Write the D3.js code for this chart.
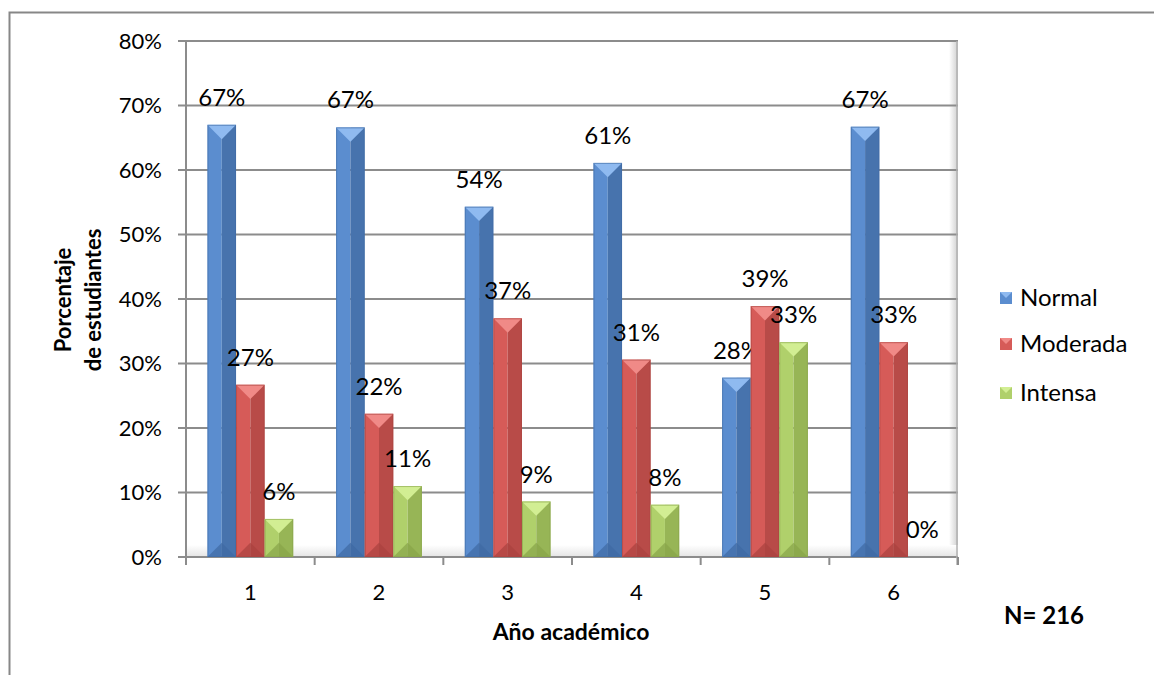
<!DOCTYPE html>
<html>
<head>
<meta charset="utf-8">
<script src="https://cdn.jsdelivr.net/npm/d3@7"></script>
<style>
  body { margin: 0; background: #fff; }
  svg text { font-family: Lato, "Open Sans", sans-serif; fill: #000; }
</style>
</head>
<body>
<div id="chart"></div>
<script>
// años académicos
const years = ["1", "2", "3", "4", "5", "6"];
const seriesNames = ["Normal", "Moderada", "Intensa"];
const normal = [0.670, 0.666, 0.543, 0.611, 0.278, 0.667];
const moderada = [0.267, 0.222, 0.370, 0.306, 0.389, 0.333];
const intensa = [0.059, 0.110, 0.086, 0.081, 0.333, 0];
const yTicks = [0, 0.1, 0.2, 0.3, 0.4, 0.5, 0.6, 0.7, 0.8];

// left, right, cap top, cap bottom colours per series
const palette = {
  Normal:   { left: "#5b8dcf", right: "#4773ad", top: "#8fbaf0", bottom: "#3f6aa3" },
  Moderada: { left: "#d65b58", right: "#b84b48", top: "#f08a87", bottom: "#a9423f" },
  Intensa:  { left: "#b0d06b", right: "#97b556", top: "#d2ee93", bottom: "#87a449" }
};

const W = 1154, H = 675;
const plot = { left: 186, right: 958, top: 41, bottom: 557 };

const svg = d3.select("#chart").append("svg")
  .attr("width", W).attr("height", H);

const data = years.map((y, i) => ({
  year: y,
  values: [
    { key: "Normal", v: normal[i] },
    { key: "Moderada", v: moderada[i] },
    { key: "Intensa", v: intensa[i] }
  ]
}));

const x0 = d3.scaleBand().domain(years).range([plot.left, plot.right]);
const x1 = d3.scaleBand().domain(seriesNames).range([0, x0.bandwidth()]).paddingOuter(0.75);
const y = d3.scaleLinear().domain([0, 0.8]).range([plot.bottom, plot.top]);

// outer frame (only top and left edges fall inside the picture)
svg.append("rect")
  .attr("x", 9.5).attr("y", 12.5).attr("width", 1160).attr("height", 680)
  .attr("fill", "none").attr("stroke", "#878787").attr("stroke-width", 2);

const defs = svg.append("defs");
const wallGrad = defs.append("linearGradient").attr("id", "wallEdge").attr("x1", 0).attr("x2", 1);
wallGrad.append("stop").attr("offset", 0).attr("stop-color", "#ffffff");
wallGrad.append("stop").attr("offset", 1).attr("stop-color", "#cfcfcf");
const floorGrad = defs.append("linearGradient").attr("id", "floor").attr("x1", 0).attr("x2", 0).attr("y1", 0).attr("y2", 1);
floorGrad.append("stop").attr("offset", 0).attr("stop-color", "#ffffff");
floorGrad.append("stop").attr("offset", 1).attr("stop-color", "#e4e4e4");

// back wall shading
svg.append("rect")
  .attr("x", plot.right - 9).attr("y", plot.top).attr("width", 9).attr("height", plot.bottom - plot.top)
  .attr("fill", "url(#wallEdge)");
svg.append("rect")
  .attr("x", plot.left).attr("y", plot.bottom - 12).attr("width", plot.right - plot.left).attr("height", 12)
  .attr("fill", "url(#floor)");

// gridlines + y ticks
svg.append("g").selectAll("line").data(yTicks).join("line")
  .attr("x1", plot.left - 8).attr("x2", plot.right)
  .attr("y1", d => y(d)).attr("y2", d => y(d))
  .attr("stroke", "#8c8c8c").attr("stroke-width", 2);

svg.append("line")
  .attr("x1", plot.left).attr("x2", plot.left)
  .attr("y1", plot.top).attr("y2", plot.bottom + 8)
  .attr("stroke", "#8c8c8c").attr("stroke-width", 2);
svg.append("line")
  .attr("x1", plot.right - 1).attr("x2", plot.right - 1)
  .attr("y1", plot.top).attr("y2", plot.bottom + 8)
  .attr("stroke", "#b0b0b0").attr("stroke-width", 1.5);

svg.append("g").selectAll("text").data(yTicks).join("text")
  .attr("x", 162).attr("y", d => y(d))
  .attr("dy", "0.35em")
  .attr("text-anchor", "end")
  .style("font-size", "22px")
  .text(d3.format(".0%"));

// x ticks between categories
const edges = years.map(d => x0(d)).concat([plot.right]);
svg.append("g").selectAll("line").data(edges).join("line")
  .attr("x1", d => d).attr("x2", d => d)
  .attr("y1", plot.bottom).attr("y2", plot.bottom + 8)
  .attr("stroke", "#8c8c8c").attr("stroke-width", 2);

svg.append("g").selectAll("text").data(years).join("text")
  .attr("x", d => x0(d) + x0.bandwidth() / 2)
  .attr("y", 592).attr("dy", "0.35em")
  .attr("text-anchor", "middle")
  .style("font-size", "22px")
  .text(d => d);

// bars
const groups = svg.append("g").selectAll("g").data(data).join("g")
  .attr("transform", d => `translate(${x0(d.year)},0)`);

const bars = groups.selectAll("g").data(d => d.values).join("g")
  .attr("transform", d => `translate(${x1(d.key)},0)`);

bars.each(function(d) {
  const g = d3.select(this);
  const w = x1.bandwidth();
  const top = y(d.v), bot = y(0);
  const h = bot - top;
  if (h <= 0) return;
  const c = palette[d.key];
  const cap = Math.min(w / 2, h / 2);
  g.append("rect").attr("x", 0).attr("y", top).attr("width", w / 2).attr("height", h).attr("fill", c.left);
  g.append("rect").attr("x", w / 2).attr("y", top).attr("width", w / 2).attr("height", h).attr("fill", c.right);
  g.append("path")
    .attr("d", `M0,${top}L${w},${top}L${w / 2},${top + cap}Z`)
    .attr("fill", c.top);
  g.append("path")
    .attr("d", `M0,${bot}L${w},${bot}L${w / 2},${bot - cap}Z`)
    .attr("fill", c.bottom).attr("opacity", 0.7);
  g.append("rect").attr("x", 0.5).attr("y", top + 0.5).attr("width", w - 1).attr("height", h - 1)
    .attr("fill", "none").attr("stroke", c.bottom).attr("stroke-opacity", 0.6);
});

// value labels
bars.append("text")
  .attr("x", x1.bandwidth() / 2)
  .attr("y", d => y(d.v) - 19)
  .attr("text-anchor", "middle")
  .style("font-size", "24px")
  .text(d => d3.format(".0%")(d.v));

// axis titles
svg.append("text")
  .attr("x", 571).attr("y", 632).attr("dy", "0.35em")
  .attr("text-anchor", "middle")
  .style("font-size", "23px").style("font-weight", "bold")
  .text("Año académico");

const yTitle = svg.append("text")
  .attr("transform", "translate(63,300) rotate(-90)")
  .attr("text-anchor", "middle")
  .style("font-size", "22px").style("font-weight", "bold");
yTitle.append("tspan").attr("x", 0).attr("dy", "0.35em").text("Porcentaje");
yTitle.append("tspan").attr("x", 0).attr("dy", "1.36em").text("de estudiantes");

// legend
const legend = svg.append("g").selectAll("g").data(seriesNames).join("g")
  .attr("transform", (d, i) => `translate(1000,${[298, 344, 393][i]})`);
legend.append("rect")
  .attr("x", 0).attr("y", -6).attr("width", 12).attr("height", 12)
  .attr("fill", d => palette[d].left);
legend.append("path")
  .attr("d", "M0,-6L12,-6L6,0Z")
  .attr("fill", d => palette[d].top);
legend.append("text")
  .attr("x", 20).attr("y", 0).attr("dy", "0.35em")
  .style("font-size", "24px")
  .text(d => d);

svg.append("text")
  .attr("x", 1044).attr("y", 616).attr("dy", "0.35em")
  .attr("text-anchor", "middle")
  .style("font-size", "24px").style("font-weight", "bold")
  .text("N= 216");
</script>
</body>
</html>
